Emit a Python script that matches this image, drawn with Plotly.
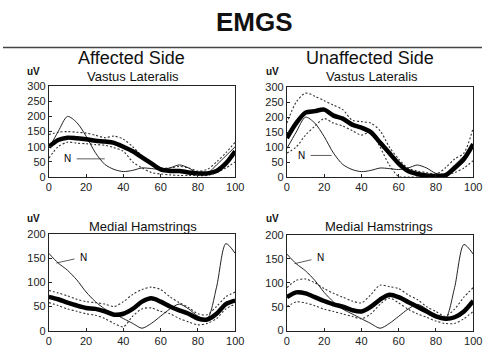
import plotly.graph_objects as go

# ---- data (% gait cycle vs uV) ----
x = [0, 5, 10, 15, 20, 25, 30, 35, 40, 45, 50, 55, 60, 65, 70, 75, 80, 85, 90, 95, 100]

# Affected side, vastus lateralis
aff_vl_mean = [100, 122, 130, 128, 125, 120, 117, 113, 100, 85, 65, 45, 25, 20, 20, 15, 12, 12, 20, 45, 85]
aff_vl_up = [140, 148, 150, 148, 145, 138, 130, 135, 125, 100, 70, 45, 30, 30, 35, 30, 20, 25, 50, 80, 115]
aff_vl_lo = [62, 100, 115, 112, 110, 107, 105, 97, 85, 50, 30, 15, 10, 7, 5, 5, 5, 5, 15, 30, 50]

# Unaffected side, vastus lateralis
una_vl_mean = [130, 180, 215, 220, 225, 205, 195, 175, 165, 150, 115, 80, 45, 20, 10, 5, 3, 5, 30, 60, 110]
una_vl_up = [180, 250, 280, 270, 255, 240, 225, 190, 185, 180, 155, 100, 60, 30, 20, 15, 10, 30, 60, 80, 165]
una_vl_lo = [80, 100, 140, 170, 195, 180, 170, 155, 140, 150, 100, 40, 2, 0, 0, 0, 0, 5, 15, 30, 55]

# Normal vastus lateralis
norm_vl = [95, 150, 200, 180, 135, 80, 42, 25, 18, 22, 30, 28, 25, 30, 40, 30, 12, 12, 40, 70, 100]

# Affected side, medial hamstrings
aff_mh_mean = [70, 65, 58, 52, 47, 45, 40, 33, 35, 45, 60, 67, 60, 50, 42, 35, 25, 23, 35, 55, 62]
aff_mh_up = [83, 78, 72, 65, 60, 58, 55, 50, 60, 75, 85, 90, 85, 70, 58, 48, 35, 33, 50, 70, 80]
aff_mh_lo = [58, 52, 45, 40, 35, 32, 25, 15, 8, 30, 45, 47, 40, 35, 25, 18, 12, 15, 25, 45, 55]

# Unaffected side, medial hamstrings
una_mh_mean = [70, 80, 78, 70, 62, 55, 50, 43, 40, 50, 65, 75, 70, 60, 50, 40, 30, 25, 28, 40, 62]
una_mh_up = [90, 105, 108, 100, 88, 78, 70, 62, 58, 75, 95, 92, 88, 75, 65, 50, 40, 30, 45, 70, 90]
una_mh_lo = [50, 60, 58, 52, 45, 40, 35, 30, 25, 35, 55, 68, 58, 45, 35, 28, 20, 15, 15, 25, 40]

# Normal medial hamstrings
norm_mh = [160, 140, 125, 105, 80, 60, 45, 35, 25, 15, 5, 15, 30, 45, 55, 45, 30, 25, 90, 180, 160]

x_ticks = [0, 20, 40, 60, 80, 100]
vl_ticks = [0, 50, 100, 150, 200, 250, 300]
mh_ticks = [0, 50, 100, 150, 200]

W, H = 491, 355
FONT = "Liberation Sans, Arial, sans-serif"

fig = go.Figure()

panels = [
    ("", aff_vl_mean, aff_vl_up, aff_vl_lo, norm_vl, [47 / W, 238 / W], [1 - 177 / H, 1 - 83 / H], [0, 300], vl_ticks),
    ("2", una_vl_mean, una_vl_up, una_vl_lo, norm_vl, [291 / W, 482 / W], [1 - 177 / H, 1 - 84 / H], [0, 300], vl_ticks),
    ("3", aff_mh_mean, aff_mh_up, aff_mh_lo, norm_mh, [47 / W, 238 / W], [1 - 336 / H, 1 - 236 / H], [0, 200], mh_ticks),
    ("4", una_mh_mean, una_mh_up, una_mh_lo, norm_mh, [291 / W, 482 / W], [1 - 336 / H, 1 - 237 / H], [0, 200], mh_ticks),
]

for suf, mean, up, lo, nrm, xd, yd, yr, yt in panels:
    xa = "x" + suf
    ya = "y" + suf
    for ys, dash, w, col in [(up, "2px,2px", 1.1, "#333"), (lo, "2px,2px", 1.1, "#333"),
                             (nrm, "solid", 1, "#222"), (mean, "solid", 4.5, "#000")]:
        fig.add_trace(go.Scatter(x=x, y=ys, mode="lines", xaxis=xa, yaxis=ya,
                                 line=dict(color=col, width=w, dash=dash, shape="spline", smoothing=0.8),
                                 showlegend=False, hoverinfo="skip"))
    axcommon = dict(showline=True, mirror=True, linecolor="#222", linewidth=1, ticks="inside",
                    ticklen=3, tickcolor="#222", showgrid=False, zeroline=False,
                    tickfont=dict(family=FONT, size=11, color="#222"))
    fig.update_layout(**{
        "xaxis" + suf: dict(domain=xd, range=[0, 100], tickvals=x_ticks, anchor=ya, **axcommon),
        "yaxis" + suf: dict(domain=yd, range=yr, tickvals=yt, anchor=xa, **axcommon),
    })

ann = []
def txt(t, x0, y0, size, bold=False):
    ann.append(dict(text=("<b>%s</b>" % t) if bold else t, x=x0 / W, y=1 - y0 / H,
                    xref="paper", yref="paper", showarrow=False,
                    font=dict(family=FONT, size=size, color="#111"),
                    xanchor="center", yanchor="middle"))

txt("EMGS", 258, 17, 26, True)
txt("Affected Side", 132, 54, 18)
txt("Unaffected Side", 376, 54, 18)
txt("Vastus Lateralis", 133, 73, 13)
txt("Vastus Lateralis", 378, 73, 13)
txt("Medial Hamstrings", 144, 228, 13)
txt("Medial Hamstrings", 385, 228, 13)
for ux, uy in [(31, 68), (276, 68), (31, 220), (276, 220)]:
    txt("uV", ux, uy, 10, True)

# N labels with pointer lines (label offset given in pixels)
for xa, ya, hx, hy, dx, dy in [("x", "y", 30, 60, -37, 0), ("x2", "y2", 24, 72, -30, 0),
                                ("x3", "y3", 4, 140, 27, -6), ("x4", "y4", 4, 140, 26, -6)]:
    ann.append(dict(text="N", x=hx, y=hy, xref=xa, yref=ya, showarrow=True, arrowhead=0,
                    arrowwidth=0.8, arrowcolor="#333", ax=dx, ay=dy,
                    standoff=0, startstandoff=4,
                    font=dict(family=FONT, size=10, color="#000000")))

fig.update_layout(
    width=W, height=H, margin=dict(l=0, r=0, t=0, b=0),
    paper_bgcolor="white", plot_bgcolor="white",
    annotations=ann,
    shapes=[dict(type="line", xref="paper", yref="paper", x0=0, x1=1,
                 y0=1 - 43 / H, y1=1 - 43 / H, line=dict(color="#444", width=1.5))],
)

fig.write_html("out.html")
